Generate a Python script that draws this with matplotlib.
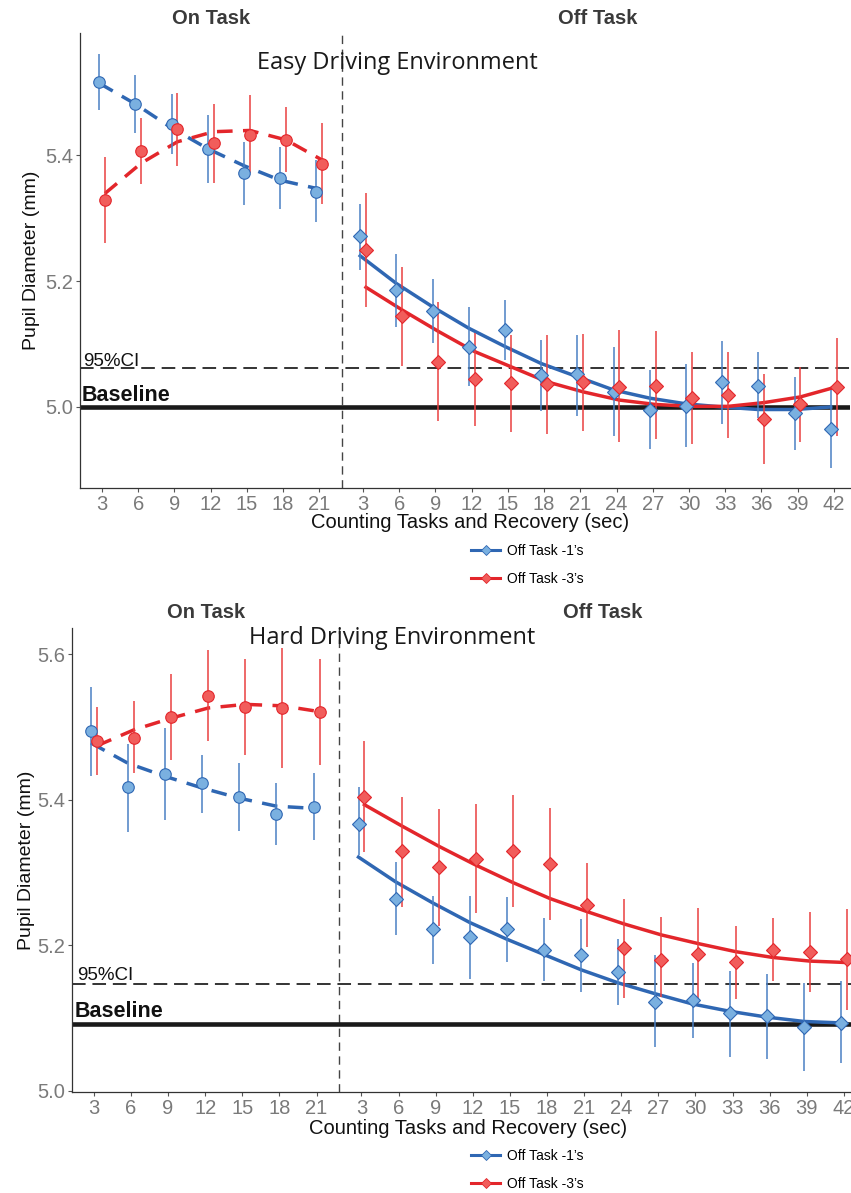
import numpy as np
import matplotlib
matplotlib.use('Agg')
import matplotlib.pyplot as plt
from matplotlib.lines import Line2D

plt.rcParams['font.family'] = ['Liberation Sans', 'DejaVu Sans']

# seconds shown on the x axis
on_secs = [3, 6, 9, 12, 15, 18, 21]
off_secs = [3, 6, 9, 12, 15, 18, 21, 24, 27, 30, 33, 36, 39, 42]

# easy driving environment
easy_on_1 = [5.516, 5.481, 5.449, 5.410, 5.371, 5.363, 5.342]
easy_on_1_lo = [5.471, 5.435, 5.402, 5.356, 5.321, 5.314, 5.293]
easy_on_1_hi = [5.560, 5.527, 5.497, 5.463, 5.421, 5.413, 5.392]
easy_on_1_fit = [5.514, 5.481, 5.443, 5.410, 5.383, 5.360, 5.347]
easy_on_3 = [5.329, 5.406, 5.441, 5.419, 5.432, 5.424, 5.386]
easy_on_3_lo = [5.260, 5.354, 5.383, 5.356, 5.371, 5.373, 5.322]
easy_on_3_hi = [5.397, 5.459, 5.499, 5.481, 5.495, 5.476, 5.451]
easy_on_3_fit = [5.339, 5.387, 5.421, 5.437, 5.439, 5.424, 5.392]

easy_off_1 = [5.271, 5.185, 5.152, 5.096, 5.122, 5.051, 5.052, 5.024, 4.996, 5.002, 5.039, 5.034, 4.990, 4.965]
easy_off_1_lo = [5.217, 5.127, 5.101, 5.033, 5.074, 4.994, 4.986, 4.954, 4.934, 4.937, 4.973, 4.982, 4.931, 4.903]
easy_off_1_hi = [5.323, 5.243, 5.203, 5.158, 5.170, 5.106, 5.115, 5.096, 5.058, 5.068, 5.105, 5.087, 5.048, 5.027]
easy_off_1_fit = [5.240, 5.196, 5.159, 5.125, 5.096, 5.069, 5.048, 5.027, 5.014, 5.005, 5.000, 4.996, 4.996, 5.000]
easy_off_3 = [5.249, 5.144, 5.072, 5.044, 5.038, 5.036, 5.040, 5.032, 5.034, 5.015, 5.019, 4.981, 5.005, 5.032]
easy_off_3_lo = [5.158, 5.065, 4.978, 4.970, 4.961, 4.957, 4.962, 4.944, 4.949, 4.941, 4.950, 4.909, 4.945, 4.954]
easy_off_3_hi = [5.340, 5.223, 5.166, 5.117, 5.114, 5.115, 5.116, 5.122, 5.121, 5.088, 5.087, 5.053, 5.064, 5.109]
easy_off_3_fit = [5.190, 5.154, 5.120, 5.088, 5.064, 5.040, 5.024, 5.011, 5.004, 5.001, 5.001, 5.007, 5.016, 5.032]

easy_baseline = 5.0
easy_ci = 5.062

# hard driving environment
hard_on_1 = [5.494, 5.417, 5.435, 5.423, 5.403, 5.380, 5.390]
hard_on_1_lo = [5.433, 5.356, 5.372, 5.382, 5.357, 5.338, 5.345]
hard_on_1_hi = [5.555, 5.476, 5.498, 5.462, 5.450, 5.423, 5.437]
hard_on_1_fit = [5.478, 5.450, 5.432, 5.416, 5.402, 5.391, 5.388]
hard_on_3 = [5.481, 5.485, 5.514, 5.543, 5.528, 5.526, 5.520]
hard_on_3_lo = [5.434, 5.436, 5.454, 5.481, 5.462, 5.443, 5.447]
hard_on_3_hi = [5.527, 5.535, 5.573, 5.606, 5.593, 5.608, 5.593]
hard_on_3_fit = [5.474, 5.496, 5.512, 5.526, 5.531, 5.529, 5.521]

hard_off_1 = [5.367, 5.263, 5.222, 5.211, 5.222, 5.193, 5.186, 5.163, 5.122, 5.125, 5.106, 5.102, 5.087, 5.093]
hard_off_1_lo = [5.324, 5.214, 5.174, 5.154, 5.177, 5.150, 5.135, 5.117, 5.060, 5.072, 5.046, 5.043, 5.027, 5.038]
hard_off_1_hi = [5.418, 5.314, 5.268, 5.267, 5.266, 5.237, 5.236, 5.208, 5.186, 5.176, 5.165, 5.160, 5.148, 5.150]
hard_off_1_fit = [5.321, 5.287, 5.258, 5.231, 5.208, 5.187, 5.166, 5.148, 5.133, 5.119, 5.109, 5.101, 5.095, 5.093]
hard_off_3 = [5.404, 5.330, 5.307, 5.319, 5.330, 5.312, 5.255, 5.196, 5.180, 5.188, 5.177, 5.193, 5.191, 5.181]
hard_off_3_lo = [5.328, 5.252, 5.226, 5.244, 5.252, 5.235, 5.197, 5.127, 5.129, 5.125, 5.126, 5.150, 5.136, 5.111]
hard_off_3_hi = [5.481, 5.403, 5.387, 5.394, 5.406, 5.388, 5.313, 5.264, 5.238, 5.251, 5.226, 5.237, 5.246, 5.250]
hard_off_3_fit = [5.393, 5.364, 5.336, 5.310, 5.286, 5.264, 5.246, 5.229, 5.214, 5.202, 5.191, 5.183, 5.178, 5.176]

hard_baseline = 5.092
hard_ci = 5.147

legend_labels = ['Off Task -1\u2019s', 'Off Task -3\u2019s']

# colours
BLUE_LINE = '#2f67b3'
BLUE_FILL = '#7ab0e0'
BLUE_BAR = '#4a80c4'
RED_LINE = '#e3262b'
RED_FILL = '#f15d5b'
RED_BAR = '#e94040'
TICK_GREY = '#7a7a7a'

W, H = 851, 1193


def fx(px):
    return px / W


def fy(py):
    return 1 - py / H


def draw_series(ax, pos, vals, lo, hi, fit, line_col, fill_col, bar_col, marker, ms, ls):
    # fitted trend, error bars, then the points on top
    ax.plot(pos, fit, color=line_col, lw=2.5, ls=ls, zorder=3)
    ax.vlines(pos, lo, hi, color=bar_col, lw=1.1, zorder=4)
    ax.plot(pos, vals, ls='none', marker=marker, ms=ms, mfc=fill_col,
            mec=line_col, mew=0.8, zorder=5)


def draw_panel(ax, d, baseline, ci, ylim, yticks, xlim, split):
    on_pos = np.arange(len(on_secs))
    off_pos = 7.21 + np.arange(len(off_secs))
    dodge = 0.08
    dash = (0, (4.5, 3))

    ax.axhline(baseline, color='#1a1a1a', lw=3.3, zorder=2)
    ax.axhline(ci, color='#333333', lw=1.4, ls=(0, (7, 3.5)), zorder=2)
    ax.axvline(split, color='#444444', lw=1.0, ls=(0, (6, 4)), zorder=1)

    draw_series(ax, on_pos - dodge, d['on_1'], d['on_1_lo'], d['on_1_hi'], d['on_1_fit'],
                BLUE_LINE, BLUE_FILL, BLUE_BAR, 'o', 8.3, dash)
    draw_series(ax, on_pos + dodge, d['on_3'], d['on_3_lo'], d['on_3_hi'], d['on_3_fit'],
                RED_LINE, RED_FILL, RED_BAR, 'o', 8.3, dash)
    draw_series(ax, off_pos - dodge, d['off_1'], d['off_1_lo'], d['off_1_hi'], d['off_1_fit'],
                BLUE_LINE, BLUE_FILL, BLUE_BAR, 'D', 7, '-')
    draw_series(ax, off_pos + dodge, d['off_3'], d['off_3_lo'], d['off_3_hi'], d['off_3_fit'],
                RED_LINE, RED_FILL, RED_BAR, 'D', 7, '-')

    ax.set_xlim(xlim)
    ax.set_ylim(ylim)
    ax.set_xticks(np.concatenate([on_pos, off_pos]))
    ax.set_xticklabels([str(s) for s in on_secs + off_secs])
    ax.set_yticks(yticks)
    ax.set_yticklabels(['%.1f' % t for t in yticks])
    ax.tick_params(labelsize=14.5, colors='#555555', labelcolor=TICK_GREY,
                   length=3, width=0.8, pad=2)
    for s in ['top', 'right']:
        ax.spines[s].set_visible(False)
    for s in ['left', 'bottom']:
        ax.spines[s].set_color('#333333')
        ax.spines[s].set_linewidth(0.9)
    ax.set_ylabel('Pupil Diameter (mm)', fontsize=14, color='#111111')
    ax.patch.set_alpha(0)


fig = plt.figure(figsize=(W / 100, H / 100), dpi=100)

# top panel
ax1 = fig.add_axes([fx(80), fy(488), fx(850) - fx(80), fy(33) - fy(488)])
easy = dict(on_1=easy_on_1, on_1_lo=easy_on_1_lo, on_1_hi=easy_on_1_hi, on_1_fit=easy_on_1_fit,
            on_3=easy_on_3, on_3_lo=easy_on_3_lo, on_3_hi=easy_on_3_hi, on_3_fit=easy_on_3_fit,
            off_1=easy_off_1, off_1_lo=easy_off_1_lo, off_1_hi=easy_off_1_hi, off_1_fit=easy_off_1_fit,
            off_3=easy_off_3, off_3_lo=easy_off_3_lo, off_3_hi=easy_off_3_hi, off_3_fit=easy_off_3_fit)
draw_panel(ax1, easy, easy_baseline, easy_ci, (4.8714, 5.5937), [5.0, 5.2, 5.4],
           (-0.61, 20.66), 6.63)
ax1.yaxis.set_label_coords(-0.052, 0.5)

# bottom panel
ax2 = fig.add_axes([fx(72), fy(1092), fx(851) - fx(72), fy(628) - fy(1092)])
hard = dict(on_1=hard_on_1, on_1_lo=hard_on_1_lo, on_1_hi=hard_on_1_hi, on_1_fit=hard_on_1_fit,
            on_3=hard_on_3, on_3_lo=hard_on_3_lo, on_3_hi=hard_on_3_hi, on_3_fit=hard_on_3_fit,
            off_1=hard_off_1, off_1_lo=hard_off_1_lo, off_1_hi=hard_off_1_hi, off_1_fit=hard_off_1_fit,
            off_3=hard_off_3, off_3_lo=hard_off_3_lo, off_3_hi=hard_off_3_hi, off_3_fit=hard_off_3_fit)
draw_panel(ax2, hard, hard_baseline, hard_ci, (4.998, 5.636), [5.0, 5.2, 5.4, 5.6],
           (-0.59, 20.4), 6.6)
ax2.yaxis.set_label_coords(-0.047, 0.5)

# headers and labels
head = dict(fontsize=14.5, fontweight='bold', color='#3a3a3a', ha='center', va='center')
fig.text(fx(211), fy(18), 'On Task', **head)
fig.text(fx(598), fy(18), 'Off Task', **head)
fig.text(fx(206), fy(612), 'On Task', **head)
fig.text(fx(603), fy(612), 'Off Task', **head)

env = dict(fontsize=17, family='Open Sans', color='#1a1a1a', ha='center', va='center')
fig.text(fx(397), fy(63), 'Easy Driving Environment', **env)
fig.text(fx(392), fy(638), 'Hard Driving Environment', **env)

xl = dict(fontsize=14.5, color='#111111', ha='center', va='center')
fig.text(fx(470), fy(522), 'Counting Tasks and Recovery (sec)', **xl)
fig.text(fx(468), fy(1128), 'Counting Tasks and Recovery (sec)', **xl)

fig.text(fx(83), fy(366), '95%CI', fontsize=13.5, color='#111111', va='baseline')
fig.text(fx(82), fy(401), 'Baseline', fontsize=15.5, fontweight='bold', color='#111111', va='baseline')
fig.text(fx(77), fy(980), '95%CI', fontsize=13.5, color='#111111', va='baseline')
fig.text(fx(75), fy(1017), 'Baseline', fontsize=15.5, fontweight='bold', color='#111111', va='baseline')

# legends under each panel
handles = [Line2D([], [], color=BLUE_LINE, lw=2.2, marker='D', ms=5, mfc=BLUE_FILL, mec=BLUE_LINE, mew=0.6),
           Line2D([], [], color=RED_LINE, lw=2.2, marker='D', ms=5, mfc=RED_FILL, mec=RED_LINE, mew=0.6)]
for top in [544, 1149]:
    fig.legend(handles, legend_labels, loc='upper left', bbox_to_anchor=(fx(471), fy(top)),
               frameon=False, fontsize=10, handlelength=2.1, handletextpad=0.5,
               labelspacing=1.0, borderpad=0, borderaxespad=0)

fig.savefig('out.png', dpi=100)
